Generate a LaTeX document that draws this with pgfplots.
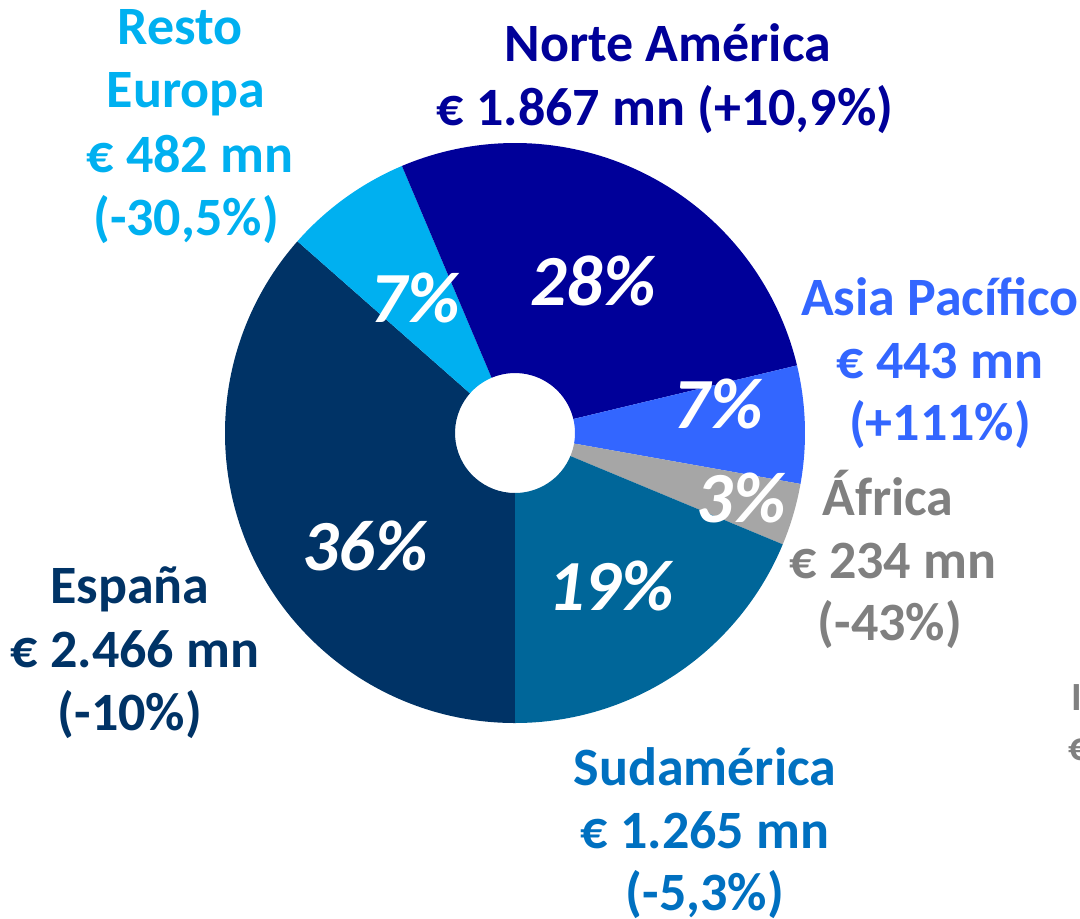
\documentclass[border=0pt]{standalone}
\usepackage{pgfplots}
\pgfplotsset{compat=1.18}
\usepackage{fontspec}
\setmainfont{Carlito}
\definecolor{cEsp}{HTML}{003366}
\definecolor{cRes}{HTML}{00B0F0}
\definecolor{cNor}{HTML}{000099}
\definecolor{cAsi}{HTML}{3366FF}
\definecolor{cAfr}{HTML}{A6A6A6}
\definecolor{cSud}{HTML}{006699}
\definecolor{tSud}{HTML}{0070C0}
\definecolor{tAfr}{HTML}{808080}
% values in EUR mn: Espana, Resto Europa, Norte America, Asia Pacifico, Africa, Sudamerica
\pgfmathsetmacro\vA{2466}
\pgfmathsetmacro\vB{482}
\pgfmathsetmacro\vC{1867}
\pgfmathsetmacro\vD{443}
\pgfmathsetmacro\vE{234}
\pgfmathsetmacro\vF{1265}
\pgfmathsetmacro\T{\vA+\vB+\vC+\vD+\vE+\vF}
\pgfmathsetmacro\aA{270}
\pgfmathsetmacro\aB{\aA-360*(\vA/\T)}
\pgfmathsetmacro\aC{\aB-360*(\vB/\T)}
\pgfmathsetmacro\aD{\aC-360*(\vC/\T)}
\pgfmathsetmacro\aE{\aD-360*(\vD/\T)}
\pgfmathsetmacro\aF{\aE-360*(\vE/\T)}
\pgfmathsetmacro\aG{\aF-360*(\vF/\T)}
\newcommand\sector[3]{\fill[#3] (axis cs:{515+290*cos(#1)},{485+290*sin(#1)}) arc[start angle=#1,end angle=#2,radius=145pt] -- (axis cs:{515+60*cos(#2)},{485+60*sin(#2)}) arc[start angle=#2,end angle=#1,radius=30pt] -- cycle;}
\begin{document}
\begin{tikzpicture}[
  lab/.style={anchor=base, inner sep=0pt, font=\fontsize{27}{32}\selectfont\bfseries},
  pct/.style={anchor=base, inner sep=0pt, text=white, font=\fontsize{36}{40}\selectfont\bfseries\itshape},
  sml/.style={anchor=base west, inner sep=0pt, text=tAfr, font=\fontsize{20}{24}\selectfont\bfseries}]
\begin{axis}[name=ax, scale only axis, width=540pt, height=459pt,
  xmin=0, xmax=1080, ymin=0, ymax=918, hide axis, clip=false]
\sector{\aA}{\aB}{cEsp}
\sector{\aB}{\aC}{cRes}
\sector{\aC}{\aD}{cNor}
\sector{\aD}{\aE}{cAsi}
\sector{\aE}{\aF}{cAfr}
\sector{\aF}{\aG}{cSud}
% percentages
\node[pct] at (axis cs:415,596) {7\%};
\node[pct] at (axis cs:593,613) {28\%};
\node[pct] at (axis cs:718,490) {7\%};
\node[pct] at (axis cs:741,396) {3\%};
\node[pct] at (axis cs:365,348) {36\%};
\node[pct] at (axis cs:611,308) {19\%};
% Resto Europa
\node[lab,text=cRes] at (axis cs:180,874) {Resto};
\node[lab,text=cRes] at (axis cs:186,811) {Europa};
\node[lab,text=cRes] at (axis cs:190,746) {€ 482 mn};
\node[lab,text=cRes] at (axis cs:186,683) {(-30,5\%)};
% Norte America
\node[lab,text=cNor] at (axis cs:668,857) {Norte América};
\node[lab,text=cNor] at (axis cs:665,793) {€ 1.867 mn (+10,9\%)};
% Asia Pacifico
\node[lab,text=cAsi] at (axis cs:940,603) {Asia Pacífico};
\node[lab,text=cAsi] at (axis cs:940,540) {€ 443 mn};
\node[lab,text=cAsi] at (axis cs:940,478) {(+111\%)};
% Africa
\node[lab,text=tAfr] at (axis cs:888,403) {África};
\node[lab,text=tAfr] at (axis cs:893,340) {€ 234 mn};
\node[lab,text=tAfr] at (axis cs:890,278) {(-43\%)};
% Espana
\node[lab,text=cEsp] at (axis cs:130,315) {España};
\node[lab,text=cEsp] at (axis cs:135,251) {€ 2.466 mn};
\node[lab,text=cEsp] at (axis cs:130,188) {(-10\%)};
% Sudamerica
\node[lab,text=tSud] at (axis cs:705,133) {Sudamérica};
\node[lab,text=tSud] at (axis cs:705,70) {€ 1.265 mn};
\node[lab,text=tSud] at (axis cs:705,8) {(-5,3\%)};
% cut-off label at right edge
\node[sml] at (axis cs:1079,258) {Resto};
\node[sml] at (axis cs:1071,208) {Internacional};
\node[sml] at (axis cs:1068,158) {€ 0 mn};
\end{axis}
\pgfresetboundingbox
\useasboundingbox (ax.south west) rectangle (ax.north east);
\end{tikzpicture}
\end{document}
